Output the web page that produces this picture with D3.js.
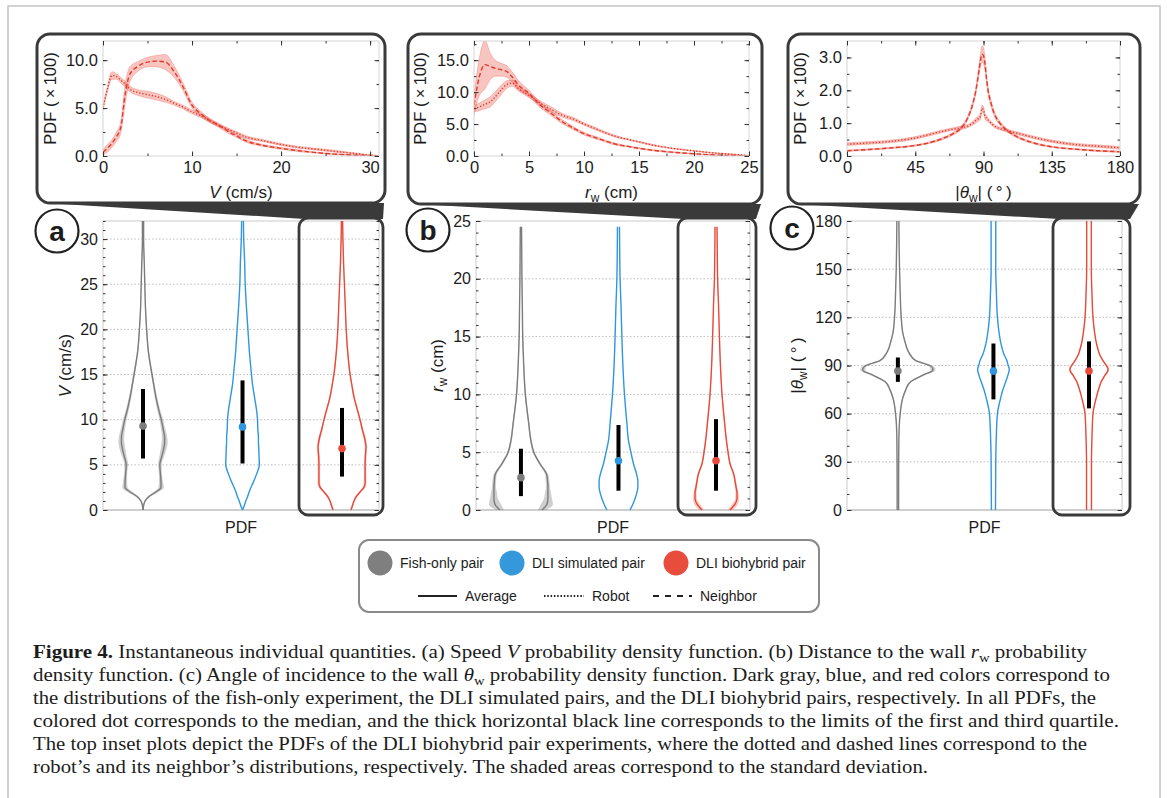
<!DOCTYPE html>
<html>
<head>
<meta charset="utf-8">
<script src="https://cdn.jsdelivr.net/npm/d3@7"></script>
<style>
  body { margin: 0; background: #fff; }
  svg text { font-family: "Liberation Sans", Arial, sans-serif; fill: #1c1c1c; }
</style>
</head>
<body>
<div id="fig"></div>
<script>
// ---------- data ----------
const groups = ["Fish-only pair", "DLI simulated pair", "DLI biohybrid pair"];
const groupColors = ["#7c7c7c", "#2f96df", "#e8493b"];
const legendColors = ["#7f7f7f", "#3498db", "#e74c3c"];

// (a) speed V (cm/s) -- violin half widths, PDF (x100)
const speedGrid   = [0, 0.5, 1, 1.5, 2, 2.5, 3, 4, 5, 6, 7, 7.5, 8, 9, 10, 11, 12.5, 14, 15, 17.5, 20, 22.5, 25, 27.5, 30, 32];
const speedFish   = [0, 0.2, 0.7, 2.0, 4.3, 6.0, 6.0, 5.8, 5.6, 6.3, 7.0, 7.2, 7.2, 6.7, 6.1, 5.3, 4.3, 3.5, 3.0, 1.8, 1.2, 0.8, 0.6, 0.4, 0.2, 0.2];
const speedFishSd = [0, 0.1, 0.2, 0.5, 0.8, 0.9, 0.7, 0.5, 0.6, 0.8, 1.0, 1.0, 0.9, 0.7, 0.6, 0.5, 0.4, 0.3, 0.3, 0.2, 0.15, 0.1, 0.1, 0.1, 0.1, 0.1];
const speedSim    = [0, 0.6, 1.1, 1.7, 2.2, 2.8, 3.5, 4.7, 5.6, 5.5, 5.4, 5.3, 5.3, 5.1, 5.0, 4.7, 4.0, 3.3, 3.0, 2.3, 1.8, 1.3, 0.9, 0.7, 0.4, 0.3];
const speedBio    = [3.0, 3.5, 4.0, 4.8, 6.0, 7.3, 7.7, 7.7, 7.7, 7.8, 8.0, 7.8, 7.5, 6.7, 6.0, 5.2, 4.0, 3.2, 2.7, 1.9, 1.4, 1.1, 0.8, 0.5, 0.3, 0.2];
const speedBioSd  = [0.3, 0.3, 0.3, 0.4, 0.4, 0.5, 0.5, 0.4, 0.4, 0.4, 0.4, 0.4, 0.4, 0.3, 0.3, 0.3, 0.3, 0.2, 0.2, 0.2, 0.1, 0.1, 0.1, 0.1, 0.1, 0.1];
const speedQuart  = [[5.7, 9.3, 13.4], [5.15, 9.2, 14.35], [3.7, 6.8, 11.3]]; // q1, median, q3

// (a) inset: biohybrid robot / neighbor PDF (x100)
const speedInGrid   = [0, 0.5, 1, 1.5, 2, 2.5, 3, 4, 5, 6, 7, 8, 9, 10, 11, 12, 13, 14, 15, 16, 18, 20, 22, 24, 26, 28, 30, 31];
const speedRobot    = [5.0, 7.0, 8.4, 8.3, 7.9, 7.5, 7.0, 6.6, 6.4, 6.2, 5.9, 5.5, 5.1, 4.6, 4.2, 3.7, 3.2, 2.8, 2.4, 2.0, 1.6, 1.2, 0.9, 0.7, 0.5, 0.3, 0.08, 0.03];
const speedRobotSd  = [0.2, 0.3, 0.4, 0.3, 0.3, 0.3, 0.3, 0.3, 0.35, 0.35, 0.3, 0.2, 0.2, 0.2, 0.2, 0.2, 0.15, 0.15, 0.15, 0.15, 0.1, 0.1, 0.1, 0.1, 0.1, 0.05, 0.05, 0.02];
const speedNeigh    = [0.4, 0.8, 1.3, 2.0, 3.0, 6.5, 8.5, 9.4, 9.8, 9.9, 9.8, 8.8, 7.2, 5.3, 4.4, 3.7, 3.2, 2.6, 2.1, 1.6, 1.1, 0.8, 0.55, 0.35, 0.2, 0.1, 0.03, 0.01];
const speedNeighSd  = [0.3, 0.4, 0.4, 0.5, 0.6, 1.0, 0.8, 0.5, 0.5, 0.6, 0.8, 0.6, 0.4, 0.3, 0.25, 0.2, 0.2, 0.2, 0.15, 0.15, 0.1, 0.1, 0.1, 0.05, 0.05, 0.05, 0.02, 0.01];

// (b) distance to wall r_w (cm)
const distGrid   = [0, 0.5, 1, 1.5, 2, 2.5, 3, 4, 5, 6, 7.5, 10, 12.5, 15, 17.5, 20, 22.5, 24.5];
const distFish   = [10.5, 13, 13.5, 13.5, 13.5, 13.3, 13, 9.5, 6.4, 5, 3.9, 2.2, 1.4, 0.9, 0.7, 0.5, 0.4, 0.3];
const distFishSd = [2.0, 3.0, 2.0, 1.5, 1.0, 0.9, 0.8, 0.6, 0.5, 0.4, 0.3, 0.3, 0.2, 0.2, 0.1, 0.1, 0.1, 0.1];
const distSim    = [5.8, 7.2, 8.3, 9.2, 9.7, 9.7, 9.2, 7.5, 6.2, 5.0, 4.2, 3.0, 2.2, 1.7, 1.3, 0.8, 0.6, 0.5];
const distBio    = [7.0, 9.5, 10.5, 10.5, 10.0, 9.5, 9.0, 7.0, 6.0, 5.2, 4.3, 3.0, 2.2, 1.7, 1.3, 0.8, 0.6, 0.5];
const distBioSd  = [1.2, 1.5, 1.0, 0.8, 0.6, 0.5, 0.5, 0.4, 0.4, 0.3, 0.3, 0.2, 0.2, 0.15, 0.1, 0.1, 0.1, 0.1];
const distQuart  = [[1.2, 2.8, 5.3], [1.67, 4.26, 7.35], [1.67, 4.26, 7.86]];

const distInGrid  = [0, 0.5, 1, 1.5, 2, 2.5, 3, 3.5, 4, 5, 6, 7, 8, 9, 10, 11, 12, 13, 14, 15, 16, 18, 20, 22, 24, 25];
const distRobot   = [7.4, 7.7, 8.1, 8.5, 9.4, 10.4, 11.2, 11.4, 10.6, 9.5, 8.3, 7.3, 6.4, 5.8, 5.0, 4.3, 3.6, 3.0, 2.6, 2.2, 1.8, 1.2, 0.8, 0.45, 0.2, 0.05];
const distRobotSd = [0.5, 0.6, 0.7, 0.8, 0.8, 0.7, 0.6, 0.5, 0.4, 0.35, 0.35, 0.4, 0.3, 0.25, 0.2, 0.2, 0.15, 0.15, 0.1, 0.1, 0.1, 0.08, 0.05, 0.05, 0.03, 0.0];
const distNeigh   = [8.0, 12.5, 14.3, 14.0, 13.7, 13.5, 13.2, 12.3, 11.2, 9.8, 8.0, 6.7, 5.4, 4.4, 3.5, 2.9, 2.3, 1.8, 1.5, 1.2, 0.95, 0.6, 0.35, 0.15, 0.05, 0.0];
const distNeighSd = [1.5, 3.0, 3.8, 2.0, 1.2, 1.0, 0.9, 0.8, 0.7, 0.5, 0.4, 0.35, 0.3, 0.25, 0.2, 0.2, 0.15, 0.15, 0.1, 0.1, 0.1, 0.08, 0.05, 0.05, 0.03, 0.0];

// (c) angle of incidence |theta_w| (deg)
const angleGrid   = [0, 15, 30, 45, 60, 70, 75, 80, 84, 87, 88, 90, 93, 97, 100, 105, 110, 120, 135, 150, 165, 180];
const angleFish   = [0.1, 0.1, 0.11, 0.14, 0.32, 0.69, 1.1, 1.79, 3.45, 4.83, 4.83, 4.41, 2.48, 1.66, 1.31, 0.97, 0.69, 0.46, 0.32, 0.23, 0.17, 0.14];
const angleFishSd = [0.02, 0.02, 0.02, 0.02, 0.05, 0.08, 0.1, 0.15, 0.25, 0.35, 0.35, 0.3, 0.2, 0.12, 0.1, 0.08, 0.05, 0.04, 0.03, 0.02, 0.02, 0.02];
const angleSim    = [0.28, 0.3, 0.32, 0.39, 0.55, 1.01, 1.31, 1.7, 2.0, 2.17, 2.17, 2.03, 1.86, 1.45, 1.24, 0.97, 0.79, 0.55, 0.41, 0.32, 0.32, 0.32];
const angleBio    = [0.34, 0.34, 0.34, 0.41, 0.55, 1.01, 1.31, 1.7, 2.21, 2.62, 2.62, 2.39, 1.93, 1.45, 1.24, 0.97, 0.79, 0.55, 0.41, 0.32, 0.32, 0.32];
const angleBioSd  = [0.03, 0.03, 0.03, 0.03, 0.04, 0.06, 0.08, 0.1, 0.12, 0.15, 0.15, 0.15, 0.12, 0.1, 0.08, 0.06, 0.05, 0.04, 0.03, 0.03, 0.03, 0.03];
const angleQuart  = [[79.8, 86.5, 95], [68.9, 86.5, 103.7], [63.3, 86.5, 105]];

const angleInGrid  = [0, 15, 30, 45, 60, 70, 75, 80, 83, 85, 87, 88, 89, 90, 91, 92, 93, 95, 97, 100, 105, 110, 120, 135, 150, 165, 180];
const angleRobot   = [0.36, 0.4, 0.45, 0.55, 0.72, 0.82, 0.86, 0.92, 1.0, 1.08, 1.15, 1.2, 1.45, 1.4, 1.2, 1.15, 1.1, 1.0, 0.92, 0.85, 0.78, 0.72, 0.6, 0.45, 0.35, 0.3, 0.25];
const angleRobotSd = [0.04, 0.04, 0.04, 0.04, 0.04, 0.04, 0.05, 0.05, 0.06, 0.08, 0.08, 0.1, 0.1, 0.1, 0.08, 0.08, 0.06, 0.05, 0.05, 0.04, 0.04, 0.04, 0.04, 0.04, 0.04, 0.04, 0.04];
const angleNeigh   = [0.16, 0.2, 0.25, 0.32, 0.48, 0.68, 0.84, 1.2, 1.6, 2.0, 2.6, 2.9, 3.1, 3.05, 2.8, 2.35, 2.0, 1.6, 1.3, 1.05, 0.8, 0.64, 0.44, 0.28, 0.21, 0.16, 0.13];
const angleNeighSd = [0.02, 0.02, 0.02, 0.02, 0.03, 0.04, 0.05, 0.06, 0.08, 0.1, 0.15, 0.2, 0.25, 0.25, 0.2, 0.15, 0.12, 0.1, 0.08, 0.06, 0.05, 0.04, 0.03, 0.02, 0.02, 0.02, 0.02];

// tick labels
const speedTicks = [0, 5, 10, 15, 20, 25, 30];
const distTicks = [0, 5, 10, 15, 20, 25];
const angleTicks = [0, 30, 60, 90, 120, 150, 180];
const speedInX = [0, 10, 20, 30], speedInY = [0, 5, 10];
const distInX = [0, 5, 10, 15, 20, 25], distInY = [0, 5, 10, 15];
const angleInX = [0, 45, 90, 135, 180], angleInY = [0, 1, 2, 3];

const legendStyles = ["Average", "Robot", "Neighbor"];

const caption = [
  [["Figure 4.", "b"], [" Instantaneous individual quantities. (a) Speed "], ["V", "i"], [" probability density function. (b) Distance to the wall "], ["r", "i"], ["w", "sub"], [" probability"]],
  [["density function. (c) Angle of incidence to the wall "], ["θ", "i"], ["w", "sub"], [" probability density function. Dark gray, blue, and red colors correspond to"]],
  [["the distributions of the fish-only experiment, the DLI simulated pairs, and the DLI biohybrid pairs, respectively. In all PDFs, the"]],
  [["colored dot corresponds to the median, and the thick horizontal black line corresponds to the limits of the first and third quartile."]],
  [["The top inset plots depict the PDFs of the DLI biohybrid pair experiments, where the dotted and dashed lines correspond to the"]],
  [["robot’s and its neighbor’s distributions, respectively. The shaded areas correspond to the standard deviation."]]
];
const captionEnds = [1087, 1110, 1096, 1119, 1087, 928];

// ---------- panels ----------
const panels = [
  {
    id: "a", insetBox: [37, 34, 385, 203], insetPlot: [103, 41, 379, 156], mainPlot: [103, 221, 379, 510],
    redBox: [299, 218, 383, 515], badge: [57, 231], yLabelX: 65, insetYLabelX: 50, xFrac: [0.145, 0.866],
    grid: speedGrid, dens: [speedFish, speedSim, speedBio], sd: [speedFishSd, null, speedBioSd], quart: speedQuart,
    yDomain: [0, 32], yTicks: speedTicks, yMinor: d3.range(0, 33, 1), wMax: [10, 30],
    yLabel: [["V", "i"], [" (cm/s)"]],
    inset: { grid: speedInGrid, robot: speedRobot, robotSd: speedRobotSd, neigh: speedNeigh, neighSd: speedNeighSd,
      xDomain: [0, 31], yDomain: [0, 12], xTicks: speedInX, xMinor: d3.range(0, 31, 5), yTicks: speedInY, yMinor: d3.range(0, 12, 2.5) }
  },
  {
    id: "b", insetBox: [408, 34, 762, 204], insetPlot: [474, 41, 749, 156], mainPlot: [476, 221, 750, 510],
    redBox: [678, 218, 756, 515], badge: [428, 230], yLabelX: 437, insetYLabelX: 420, xFrac: [0.164, 0.876],
    grid: distGrid, dens: [distFish, distSim, distBio], sd: [distFishSd, null, distBioSd], quart: distQuart,
    yDomain: [0, 25], yTicks: distTicks, yMinor: d3.range(0, 26, 1), wMax: [15, 30],
    yLabel: [["r", "i"], ["w", "sub"], [" (cm)"]],
    inset: { grid: distInGrid, robot: distRobot, robotSd: distRobotSd, neigh: distNeigh, neighSd: distNeighSd,
      xDomain: [0, 25], yDomain: [0, 18], xTicks: distInX, xMinor: d3.range(0, 25.1, 2.5), yTicks: distInY, yMinor: d3.range(0, 18, 2.5) }
  },
  {
    id: "c", insetBox: [788, 34, 1140, 204], insetPlot: [847, 41, 1120, 156], mainPlot: [847, 221, 1122, 510],
    redBox: [1053, 218, 1130, 515], badge: [792, 228], yLabelX: 797, insetYLabelX: 800, xFrac: [0.185, 0.88],
    grid: angleGrid, dens: [angleFish, angleSim, angleBio], sd: [angleFishSd, null, angleBioSd], quart: angleQuart,
    yDomain: [0, 180], yTicks: angleTicks, yMinor: d3.range(0, 181, 10), wMax: [4, 29],
    yLabel: [["|"], ["θ", "i"], ["w", "sub"], ["| (\u2009°\u2009)"]],
    inset: { grid: angleInGrid, robot: angleRobot, robotSd: angleRobotSd, neigh: angleNeigh, neighSd: angleNeighSd,
      xDomain: [0, 180], yDomain: [0, 3.5], xTicks: angleInX, xMinor: d3.range(0, 181, 22.5), yTicks: angleInY, yMinor: d3.range(0, 3.5, 0.5) }
  }
];

const W = 1167, H = 798;
const svg = d3.select("#fig").append("svg").attr("width", W).attr("height", H);
svg.append("rect").attr("width", W).attr("height", H).attr("fill", "#fff");
svg.append("rect").attr("x", 8).attr("y", 6).attr("width", 1152).attr("height", 830)
  .attr("fill", "none").attr("stroke", "#c4c4c4").attr("stroke-width", 1.5);

function rich(t, segs, size) {
  let shifted = false;
  segs.forEach(([s, st]) => {
    const ts = t.append("tspan").text(s);
    if (st === "i") ts.attr("font-style", "italic");
    if (st === "b") ts.attr("font-weight", "bold");
    if (st === "sub") { ts.attr("font-size", size * 0.7).attr("dy", size * 0.22); shifted = true; }
    else if (shifted) { ts.attr("dy", -size * 0.22); shifted = false; }
  });
}

function ticks(g, scale, orient, pos, major, minor, fmt, fontSize) {
  const make = { left: d3.axisLeft, right: d3.axisRight, top: d3.axisTop, bottom: d3.axisBottom }[orient];
  const tr = (orient === "left" || orient === "right") ? `translate(${pos},0)` : `translate(0,${pos})`;
  const gm = g.append("g").attr("transform", tr)
    .call(make(scale).tickValues(minor).tickSize(-2.5).tickFormat(""));
  const gM = g.append("g").attr("transform", tr)
    .call(make(scale).tickValues(major).tickSize(-4.5).tickPadding(5).tickFormat(fmt || ""));
  [gm, gM].forEach(a => {
    a.select(".domain").remove();
    a.selectAll(".tick line").attr("stroke", "#333").attr("stroke-width", 1);
    a.selectAll(".tick text").attr("font-size", fontSize).attr("fill", "#1c1c1c")
      .style("font-family", '"Liberation Sans", Arial, sans-serif');
  });
}

function drawInset(p) {
  const [bx0, by0, bx1, by1] = p.insetBox;
  const [x0, y0, x1, y1] = p.insetPlot;
  const ins = p.inset;
  const g = svg.append("g");
  g.append("rect").attr("x", bx0).attr("y", by0).attr("width", bx1 - bx0).attr("height", by1 - by0)
    .attr("rx", 13).attr("fill", "#fff").attr("stroke", "#3a3a3a").attr("stroke-width", 3);

  const x = d3.scaleLinear().domain(ins.xDomain).range([x0, x1]);
  const y = d3.scaleLinear().domain(ins.yDomain).range([y1, y0]);

  const clipId = "clip-" + p.id;
  g.append("clipPath").attr("id", clipId).append("rect")
    .attr("x", x0).attr("y", y0).attr("width", x1 - x0).attr("height", y1 - y0);
  const pg = g.append("g").attr("clip-path", `url(#${clipId})`);

  const series = [
    { m: ins.robot, s: ins.robotSd, dash: "1.3,1.9" },
    { m: ins.neigh, s: ins.neighSd, dash: "4.5,2.5" }
  ];
  series.forEach(se => {
    const pts = ins.grid.map((v, i) => ({ v, m: se.m[i], s: se.s[i] }));
    pg.append("path").datum(pts)
      .attr("d", d3.area().curve(d3.curveMonotoneX).x(d => x(d.v)).y0(d => y(Math.max(0, d.m - d.s))).y1(d => y(d.m + d.s)))
      .attr("fill", "rgba(235,85,72,0.35)").attr("stroke", "rgba(232,73,59,0.45)").attr("stroke-width", 0.6);
  });
  series.forEach(se => {
    const pts = ins.grid.map((v, i) => ({ v, m: se.m[i] }));
    pg.append("path").datum(pts)
      .attr("d", d3.line().curve(d3.curveMonotoneX).x(d => x(d.v)).y(d => y(d.m)))
      .attr("fill", "none").attr("stroke", "#e23a2c").attr("stroke-width", 1.4).attr("stroke-dasharray", se.dash);
  });

  g.append("rect").attr("x", x0).attr("y", y0).attr("width", x1 - x0).attr("height", y1 - y0)
    .attr("fill", "none").attr("stroke", "#d4d4d4").attr("stroke-width", 1);
  ticks(g, y, "left", x0, ins.yTicks, ins.yMinor, d3.format(".1f"), 16.5);
  ticks(g, y, "right", x1, ins.yTicks, ins.yMinor, null, 16.5);
  ticks(g, x, "bottom", y1, ins.xTicks, ins.xMinor, d3.format("d"), 16.5);
  ticks(g, x, "top", y0, ins.xTicks, ins.xMinor, null, 16.5);

  const xl = g.append("text").attr("x", (x0 + x1) / 2).attr("y", 198).attr("text-anchor", "middle").attr("font-size", 17);
  rich(xl, p.yLabel, 17);
  g.append("text").attr("transform", `translate(${p.insetYLabelX},${(y0 + y1) / 2}) rotate(-90)`)
    .attr("text-anchor", "middle").attr("dy", "0.35em").attr("font-size", 16.5).text("PDF (\u2009×\u2009100)");
}

function drawMain(p) {
  const [x0, y0, x1, y1] = p.mainPlot;
  const g = svg.append("g");
  const y = d3.scaleLinear().domain(p.yDomain).range([y1, y0]);
  const x = d3.scalePoint().domain(groups).range([x0 + p.xFrac[0] * (x1 - x0), x0 + p.xFrac[1] * (x1 - x0)]);
  const w = d3.scaleLinear().domain([0, p.wMax[0]]).range([0, p.wMax[1]]);

  // badge
  g.append("circle").attr("cx", p.badge[0]).attr("cy", p.badge[1]).attr("r", 21.5)
    .attr("fill", "#fff").attr("stroke", "#222").attr("stroke-width", 2.2);
  g.append("text").attr("x", p.badge[0]).attr("y", p.badge[1]).attr("dy", "0.36em").attr("text-anchor", "middle")
    .attr("font-size", 28).attr("font-weight", "bold").text(p.id);

  // grid
  g.append("g").selectAll("line").data(p.yTicks.filter(t => t > p.yDomain[0] && t < p.yDomain[1])).join("line")
    .attr("x1", x0).attr("x2", x1).attr("y1", d => y(d)).attr("y2", d => y(d))
    .attr("stroke", "#bdbdbd").attr("stroke-width", 1).attr("stroke-dasharray", "1.5,2");

  // spines
  g.append("rect").attr("x", x0).attr("y", y0).attr("width", x1 - x0).attr("height", y1 - y0)
    .attr("fill", "none").attr("stroke", "#d4d4d4").attr("stroke-width", 1.2);
  g.append("line").attr("x1", x0).attr("x2", x1).attr("y1", y1).attr("y2", y1)
    .attr("stroke", "#cfcfcf").attr("stroke-width", 2);
  ticks(g, y, "left", x0, p.yTicks, p.yMinor, d3.format("d"), 16);
  ticks(g, y, "right", x1, p.yTicks, p.yMinor, null, 16);

  // violins
  groups.forEach((grp, k) => {
    const cx = x(grp);
    const color = groupColors[k];
    const sd = p.sd[k];
    const pts = p.grid.map((v, i) => ({ v, d: p.dens[k][i], s: sd ? sd[i] : 0 }));
    if (sd) {
      const band = k === 0 ? "rgba(130,130,130,0.38)" : "rgba(235,85,72,0.3)";
      [-1, 1].forEach(side => {
        g.append("path").datum(pts)
          .attr("d", d3.area().curve(d3.curveMonotoneY).y(d => y(d.v))
            .x0(d => cx + side * w(Math.max(0, d.d - d.s))).x1(d => cx + side * w(d.d + d.s)))
          .attr("fill", band);
      });
    }
    [-1, 1].forEach(side => {
      g.append("path").datum(pts)
        .attr("d", d3.line().curve(d3.curveMonotoneY).y(d => y(d.v)).x(d => cx + side * w(d.d)))
        .attr("fill", "none").attr("stroke", color).attr("stroke-width", 1.4);
    });
    const [q1, med, q3] = p.quart[k];
    g.append("line").attr("x1", cx).attr("x2", cx).attr("y1", y(q1)).attr("y2", y(q3))
      .attr("stroke", "#000").attr("stroke-width", 4);
    g.append("circle").attr("cx", cx).attr("cy", y(med)).attr("r", 3.8).attr("fill", color);
  });

  // red highlight box + connector wedge to inset
  const [rx0, ry0, rx1, ry1] = p.redBox;
  const [bx0, , bx1, by1] = p.insetBox;
  svg.append("polygon")
    .attr("points", [[bx0 + 8, by1], [bx1 - 1, by1], [rx1, ry0 + 1], [rx0 + 6, ry0 + 1]].map(q => q.join(",")).join(" "))
    .attr("fill", "#3a3a3a");
  g.append("rect").attr("x", rx0).attr("y", ry0).attr("width", rx1 - rx0).attr("height", ry1 - ry0)
    .attr("rx", 9).attr("fill", "none").attr("stroke", "#3a3a3a").attr("stroke-width", 2.8);

  // labels
  g.append("text").attr("x", (x0 + x1) / 2).attr("y", 533).attr("text-anchor", "middle").attr("font-size", 16).text("PDF");
  const yl = g.append("text").attr("transform", `translate(${p.yLabelX},${(y0 + y1) / 2}) rotate(-90)`)
    .attr("text-anchor", "middle").attr("dy", "0.35em").attr("font-size", 17);
  rich(yl, p.yLabel, 17);
}

panels.forEach(p => { drawMain(p); drawInset(p); });

// ---------- legend ----------
const lg = svg.append("g");
lg.append("rect").attr("x", 359).attr("y", 540).attr("width", 460).attr("height", 72).attr("rx", 10)
  .attr("fill", "#fff").attr("stroke", "#8a8a8a").attr("stroke-width", 2);
const legX = [380, 512, 676];
groups.forEach((grp, k) => {
  lg.append("circle").attr("cx", legX[k]).attr("cy", 563).attr("r", 12.5).attr("fill", legendColors[k]);
  lg.append("text").attr("x", legX[k] + 20).attr("y", 568).attr("font-size", 14).text(grp);
});
const styleX = [[418, 457], [544, 584], [653, 692]];
const styleDash = [null, "1.5,1.8", "6,6"];
legendStyles.forEach((s, k) => {
  lg.append("line").attr("x1", styleX[k][0]).attr("x2", styleX[k][1]).attr("y1", 596).attr("y2", 596)
    .attr("stroke", "#222").attr("stroke-width", 2.2).attr("stroke-dasharray", styleDash[k]);
  lg.append("text").attr("x", styleX[k][1] + 8).attr("y", 601).attr("font-size", 14).text(s);
});

// ---------- caption ----------
caption.forEach((line, i) => {
  const t = svg.append("text").attr("x", 33).attr("y", 658 + i * 23)
    .attr("font-size", 19).style("font-family", '"Liberation Serif", "Times New Roman", serif')
    .attr("textLength", captionEnds[i] - 33).attr("lengthAdjust", "spacingAndGlyphs");
  rich(t, line, 19);
});
</script>
</body>
</html>
